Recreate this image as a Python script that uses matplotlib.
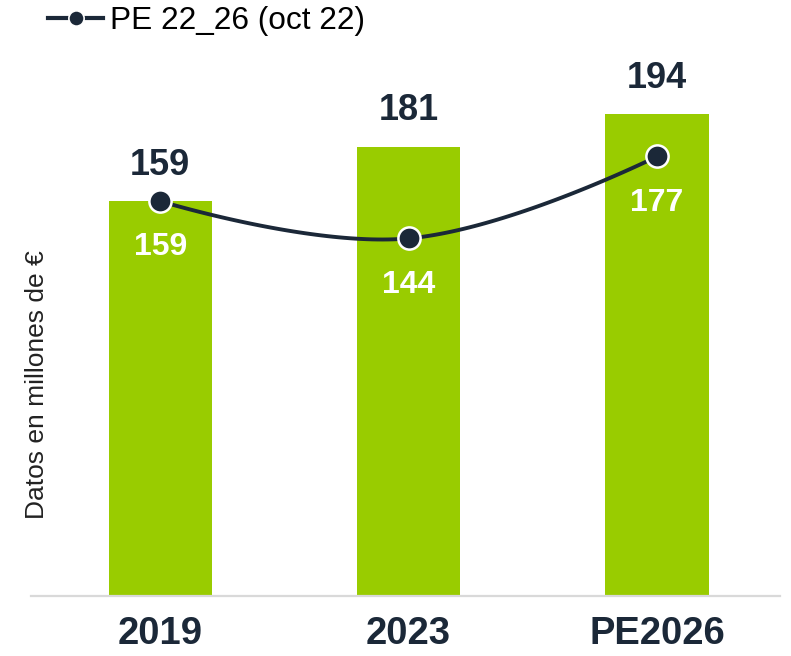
import numpy as np
import matplotlib
matplotlib.use("Agg")
import matplotlib.pyplot as plt
from matplotlib.lines import Line2D

plt.rcParams['font.family'] = ['Liberation Sans', 'DejaVu Sans']

categories = ["2019", "2023", "PE2026"]
bar_values = [159, 181, 194]
line_values = [159, 144, 177]
line_label = "PE 22_26 (oct 22)"
ylabel = "Datos en millones de €"

GREEN = "#99CC00"
DARK = "#1B2838"

W, H = 791, 656
fig = plt.figure(figsize=(W / 100, H / 100), dpi=100)
ax = fig.add_axes([31 / W, 60 / H, 749 / W, 596 / H])
x = np.arange(len(categories))

ax.bar(x, bar_values, width=0.415, color=GREEN, zorder=1)
ax.set_xlim(-0.52, 2.495)
ax.set_ylim(0, 240)

for s in ["top", "right", "left"]:
    ax.spines[s].set_visible(False)
ax.spines["bottom"].set_color("#d9d9d9")
ax.spines["bottom"].set_linewidth(1.6)
ax.set_yticks([])
ax.set_xticks(x)
ax.set_xticklabels(categories, fontsize=27.5, fontweight="bold", color=DARK)
ax.tick_params(axis="x", length=0, pad=14.5)

# smooth line (Chart.js-like tension spline) computed in display space
pts = ax.transData.transform(np.column_stack([x, line_values]).astype(float))
t = 0.4
n = len(pts)
cps = []
for i in range(n):
    p = pts[i]
    if i == 0 or i == n - 1:
        cps.append((p.copy(), p.copy()))
        continue
    prev, nxt = pts[i - 1], pts[i + 1]
    d01 = np.hypot(*(p - prev))
    d12 = np.hypot(*(nxt - p))
    s01 = d01 / (d01 + d12)
    s12 = d12 / (d01 + d12)
    cps.append((p - t * s01 * (nxt - prev), p + t * s12 * (nxt - prev)))
curve = []
tt = np.linspace(0, 1, 60)[:, None]
for i in range(n - 1):
    p0 = pts[i]
    p1 = cps[i][1]
    p2 = cps[i + 1][0]
    p3 = pts[i + 1]
    seg = ((1 - tt) ** 3) * p0 + 3 * ((1 - tt) ** 2) * tt * p1 + 3 * (1 - tt) * tt ** 2 * p2 + tt ** 3 * p3
    curve.append(seg)
curve = np.vstack(curve)
curve_data = ax.transData.inverted().transform(curve)
ax.plot(curve_data[:, 0], curve_data[:, 1], color=DARK, lw=2.8, zorder=3, solid_capstyle="round")
ax.plot(x, line_values, linestyle="none", marker="o", markersize=16,
        markerfacecolor=DARK, markeredgecolor="white", markeredgewidth=1.8, zorder=4)

for xi, v in zip(x, bar_values):
    ax.annotate(f"{v}", (xi, v), xytext=(0, 19), textcoords="offset points",
                ha="center", va="baseline", fontsize=26, fontweight="bold", color=DARK)
for xi, v in zip(x, line_values):
    ax.annotate(f"{v}", (xi, v), xytext=(0, -39), textcoords="offset points",
                ha="center", va="baseline", fontsize=23, fontweight="bold", color="white", zorder=5)

fig.text(37 / W, 1 - 385 / H, ylabel, rotation=90, ha="center", va="center",
         fontsize=19, color="#222222")

handle = Line2D([], [], color=DARK, lw=3, marker="o", markersize=11,
                markerfacecolor=DARK, markeredgecolor="white", markeredgewidth=1.2)
fig.legend(handles=[handle], labels=[line_label], loc="upper left",
           bbox_to_anchor=(48 / W, 1 - 6 / H), frameon=False, fontsize=22.8,
           handlelength=1.75, handletextpad=0.22, borderpad=0, borderaxespad=0)

fig.savefig("out.png", dpi=100)
